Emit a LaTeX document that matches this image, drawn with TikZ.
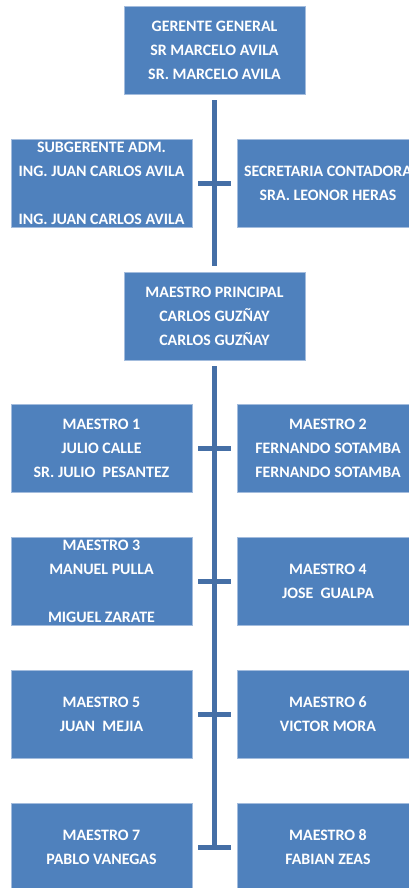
\documentclass[tikz,border=0pt]{standalone}
\usepackage{fontspec}
\setmainfont{Carlito}
\definecolor{boxfill}{HTML}{4F81BD}
\definecolor{boxedge}{HTML}{A3BCDD}
\definecolor{linkc}{HTML}{456FA6}
\tikzset{
  orgbox/.style={rectangle, fill=boxfill, draw=boxedge, line width=0.8pt,
    minimum width=181pt, minimum height=88pt, inner sep=0pt, align=center,
    text=white, font=\bfseries\fontsize{15.9}{24}\selectfont},
  link/.style={draw=linkc, line width=5pt}
}
\begin{document}
\begin{tikzpicture}[x=1pt,y=-1pt]
\useasboundingbox (0,0) rectangle (409,888);
\clip (0,0) rectangle (409,888);
\fill[white] (0,0) rectangle (409,888);
\node[orgbox] (gg) at (214.5,50) {GERENTE GENERAL\\SR MARCELO AVILA\\SR. MARCELO AVILA};
\node[orgbox] (sub) at (101.5,183) {SUBGERENTE ADM.\\ING. JUAN CARLOS AVILA\\[24pt]ING. JUAN CARLOS AVILA};
\node[orgbox] (sec) at (328,183) {SECRETARIA CONTADORA\\SRA. LEONOR HERAS};
\node[orgbox] (mp) at (214.5,316) {MAESTRO PRINCIPAL\\CARLOS GUZÑAY\\CARLOS GUZÑAY};
\node[orgbox] (m1) at (101.5,448.5) {MAESTRO 1\\JULIO CALLE\\SR. JULIO\ \ PESANTEZ};
\node[orgbox] (m2) at (328,448.5) {MAESTRO 2\\FERNANDO SOTAMBA\\FERNANDO SOTAMBA};
\node[orgbox] (m3) at (101.5,581.5) {MAESTRO 3\\MANUEL PULLA\\[24pt]MIGUEL ZARATE};
\node[orgbox] (m4) at (328,581.5) {MAESTRO 4\\JOSE\ \ GUALPA};
\node[orgbox] (m5) at (101.5,714) {MAESTRO 5\\JUAN\ \ MEJIA};
\node[orgbox] (m6) at (328,714) {MAESTRO 6\\VICTOR MORA};
\node[orgbox] (m7) at (101.5,847) {MAESTRO 7\\PABLO VANEGAS};
\node[orgbox] (m8) at (328,847) {MAESTRO 8\\FABIAN ZEAS};
\coordinate (bottom) at (214.5,849.5);
% connectors
\draw[link] ([yshift=-6pt]gg.south) -- ([yshift=6pt]mp.north);
\draw[link] ([xshift=6pt]sub.east) -- ([xshift=-6pt]sec.west);
\draw[link] ([yshift=-6pt]mp.south) -- (bottom);
\draw[link] ([xshift=6pt]m1.east) -- ([xshift=-6pt]m2.west);
\draw[link] ([xshift=6pt]m3.east) -- ([xshift=-6pt]m4.west);
\draw[link] ([xshift=6pt]m5.east) -- ([xshift=-6pt]m6.west);
\draw[link] ([xshift=6pt]m7.east) -- ([xshift=-6pt]m8.west);
\end{tikzpicture}
\end{document}
